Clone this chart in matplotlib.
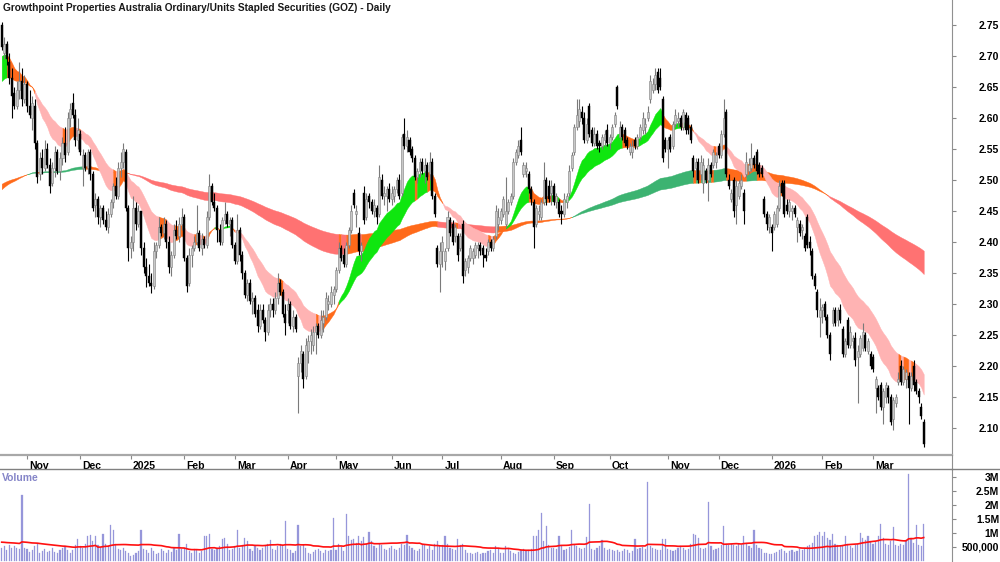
import numpy as np
import pandas as pd
import matplotlib
matplotlib.use("Agg")
import matplotlib.pyplot as plt
import matplotlib.transforms as mtrans
from matplotlib.lines import Line2D

plt.rcParams['font.family'] = ['Liberation Sans', 'DejaVu Sans']

# ---------------- data ----------------
opens = [
    2.75, 2.705, 2.72, 2.69, 2.665, 2.64, 2.62, 2.645, 2.66, 2.63,
    2.655, 2.62, 2.60, 2.62, 2.56, 2.51, 2.535, 2.52, 2.55, 2.525, 2.495, 2.52, 2.545, 2.515, 2.535, 2.56, 2.545, 2.60, 2.625, 2.605, 2.565,
    2.575, 2.52, 2.54, 2.52, 2.545, 2.51, 2.46, 2.47, 2.44, 2.455, 2.435, 2.425, 2.445, 2.465, 2.49, 2.475, 2.52, 2.53, 2.545, 2.455,
    2.39, 2.40, 2.455, 2.43, 2.45, 2.39, 2.36, 2.345, 2.335, 2.33, 2.385, 2.395, 2.425, 2.415, 2.43, 2.40, 2.36, 2.38, 2.42, 2.41, 2.43,
    2.44, 2.375, 2.335, 2.38, 2.39, 2.40, 2.415, 2.39, 2.405, 2.395, 2.44, 2.49, 2.465, 2.455, 2.42, 2.40, 2.435, 2.445, 2.43, 2.435,
    2.395, 2.37, 2.42, 2.38, 2.35, 2.315, 2.335, 2.305, 2.31, 2.29, 2.265, 2.29, 2.275, 2.255, 2.29, 2.30, 2.29, 2.31, 2.335, 2.32, 2.285,
    2.29, 2.30, 2.265, 2.28, 2.185, 2.205, 2.22, 2.185, 2.225, 2.24, 2.235, 2.255, 2.265, 2.25, 2.27, 2.28, 2.30, 2.30, 2.315,
    2.325, 2.355, 2.39, 2.38, 2.365, 2.395, 2.42, 2.48, 2.445, 2.415, 2.385, 2.48, 2.44, 2.475, 2.465, 2.45, 2.455, 2.445, 2.50, 2.475, 2.475, 2.485,
    2.47, 2.475, 2.485, 2.50, 2.48, 2.575, 2.555, 2.565, 2.55, 2.535, 2.505, 2.515, 2.53, 2.515, 2.525, 2.51, 2.53, 2.475, 2.39, 2.365,
    2.385, 2.37, 2.39, 2.435, 2.43, 2.41, 2.41, 2.39, 2.43, 2.355, 2.36, 2.375, 2.375, 2.38, 2.39, 2.395, 2.39, 2.38, 2.385, 2.40, 2.39, 2.41, 2.43,
    2.435, 2.445, 2.43, 2.45, 2.465, 2.475, 2.53, 2.54, 2.565, 2.51, 2.515, 2.51, 2.485, 2.465, 2.43, 2.445, 2.44, 2.465, 2.50, 2.49, 2.48,
    2.49, 2.465, 2.465, 2.45, 2.445, 2.465, 2.48, 2.52, 2.545, 2.585, 2.595, 2.61, 2.60, 2.565, 2.62, 2.58, 2.56, 2.575, 2.56, 2.555, 2.565, 2.58,
    2.56, 2.57, 2.59, 2.65, 2.57, 2.585, 2.58, 2.565, 2.545, 2.545, 2.565, 2.555, 2.57, 2.58, 2.585, 2.60, 2.63, 2.645, 2.655, 2.675, 2.665, 2.63, 2.565,
    2.55, 2.57, 2.555, 2.59, 2.595, 2.60, 2.585, 2.605, 2.60, 2.585, 2.535, 2.52, 2.53, 2.51, 2.495, 2.515, 2.50, 2.525, 2.525, 2.53,
    2.555, 2.54, 2.575, 2.61, 2.50, 2.47, 2.50, 2.46, 2.475, 2.49, 2.48, 2.51, 2.515, 2.52, 2.535, 2.545, 2.525, 2.52, 2.47, 2.445, 2.425,
    2.425, 2.425, 2.43, 2.455, 2.495, 2.495, 2.46, 2.45, 2.45, 2.455, 2.425, 2.43, 2.42, 2.41, 2.44, 2.40, 2.385, 2.345, 2.32, 2.28,
    2.29, 2.30, 2.28, 2.25, 2.27, 2.29, 2.275, 2.29, 2.26, 2.22, 2.275, 2.235, 2.24, 2.245, 2.215, 2.22, 2.23, 2.25, 2.225, 2.22,
    2.215, 2.165, 2.165, 2.17, 2.135, 2.15, 2.165, 2.15, 2.115, 2.14, 2.175, 2.20, 2.175, 2.18, 2.185, 2.165, 2.20, 2.175, 2.16, 2.135, 2.11,
]
highs = [
    2.755, 2.73, 2.725, 2.705, 2.68, 2.65, 2.66, 2.69, 2.68, 2.67,
    2.66, 2.645, 2.635, 2.63, 2.565, 2.545, 2.55, 2.565, 2.56, 2.535, 2.53, 2.555, 2.55, 2.545, 2.57, 2.585, 2.61, 2.625, 2.64, 2.615, 2.60,
    2.58, 2.55, 2.545, 2.55, 2.55, 2.515, 2.48, 2.475, 2.46, 2.46, 2.45, 2.455, 2.47, 2.495, 2.505, 2.53, 2.545, 2.56, 2.55, 2.46,
    2.41, 2.475, 2.465, 2.46, 2.45, 2.40, 2.375, 2.365, 2.35, 2.40, 2.40, 2.44, 2.43, 2.44, 2.435, 2.41, 2.385, 2.43, 2.435, 2.44, 2.455,
    2.445, 2.38, 2.39, 2.395, 2.41, 2.46, 2.42, 2.415, 2.41, 2.45, 2.51, 2.495, 2.48, 2.46, 2.43, 2.44, 2.465, 2.45, 2.44, 2.44,
    2.40, 2.445, 2.425, 2.385, 2.355, 2.34, 2.34, 2.32, 2.315, 2.30, 2.30, 2.30, 2.28, 2.30, 2.31, 2.31, 2.32, 2.35, 2.34, 2.325, 2.30,
    2.31, 2.305, 2.29, 2.285, 2.215, 2.235, 2.225, 2.245, 2.25, 2.26, 2.265, 2.27, 2.27, 2.29, 2.29, 2.32, 2.315, 2.33, 2.33,
    2.36, 2.40, 2.395, 2.39, 2.40, 2.425, 2.46, 2.485, 2.46, 2.425, 2.40, 2.49, 2.48, 2.48, 2.47, 2.47, 2.46, 2.525, 2.51, 2.49, 2.49, 2.495,
    2.49, 2.49, 2.505, 2.51, 2.575, 2.60, 2.58, 2.57, 2.555, 2.54, 2.52, 2.535, 2.535, 2.535, 2.53, 2.545, 2.535, 2.48, 2.395, 2.40,
    2.41, 2.39, 2.45, 2.44, 2.435, 2.43, 2.415, 2.415, 2.435, 2.375, 2.38, 2.395, 2.39, 2.40, 2.40, 2.40, 2.395, 2.39, 2.405, 2.405, 2.41, 2.46, 2.455,
    2.455, 2.475, 2.505, 2.47, 2.48, 2.535, 2.55, 2.565, 2.585, 2.53, 2.53, 2.515, 2.49, 2.47, 2.46, 2.46, 2.47, 2.53, 2.505, 2.50, 2.50,
    2.495, 2.48, 2.47, 2.46, 2.48, 2.48, 2.525, 2.545, 2.59, 2.63, 2.63, 2.62, 2.61, 2.60, 2.625, 2.585, 2.585, 2.58, 2.565, 2.575, 2.58, 2.59,
    2.575, 2.59, 2.61, 2.653, 2.595, 2.59, 2.585, 2.57, 2.56, 2.565, 2.57, 2.575, 2.59, 2.61, 2.60, 2.62, 2.67, 2.665, 2.68, 2.68, 2.68, 2.635, 2.57,
    2.57, 2.575, 2.595, 2.615, 2.61, 2.605, 2.615, 2.61, 2.605, 2.59, 2.54, 2.535, 2.535, 2.54, 2.535, 2.52, 2.535, 2.53, 2.55, 2.545,
    2.56, 2.58, 2.63, 2.615, 2.51, 2.485, 2.505, 2.50, 2.50, 2.51, 2.485, 2.545, 2.535, 2.56, 2.54, 2.55, 2.53, 2.525, 2.475, 2.45, 2.445,
    2.43, 2.45, 2.46, 2.50, 2.50, 2.50, 2.47, 2.47, 2.46, 2.46, 2.44, 2.435, 2.43, 2.415, 2.445, 2.41, 2.39, 2.35, 2.325, 2.31,
    2.30, 2.305, 2.285, 2.255, 2.295, 2.295, 2.295, 2.30, 2.265, 2.245, 2.28, 2.265, 2.25, 2.255, 2.235, 2.25, 2.27, 2.255, 2.245, 2.225,
    2.22, 2.185, 2.17, 2.175, 2.165, 2.175, 2.17, 2.155, 2.15, 2.155, 2.19, 2.21, 2.20, 2.195, 2.19, 2.19, 2.21, 2.18, 2.165, 2.14, 2.115,
]
lows = [
    2.71, 2.695, 2.685, 2.655, 2.60, 2.615, 2.615, 2.63, 2.62, 2.625,
    2.61, 2.60, 2.58, 2.55, 2.495, 2.50, 2.51, 2.515, 2.52, 2.48, 2.49, 2.505, 2.51, 2.50, 2.525, 2.53, 2.54, 2.585, 2.60, 2.555, 2.55,
    2.54, 2.49, 2.515, 2.51, 2.50, 2.45, 2.44, 2.43, 2.425, 2.43, 2.42, 2.415, 2.44, 2.455, 2.47, 2.47, 2.505, 2.52, 2.45, 2.37,
    2.375, 2.385, 2.42, 2.425, 2.38, 2.35, 2.327, 2.33, 2.318, 2.325, 2.375, 2.39, 2.41, 2.405, 2.39, 2.35, 2.345, 2.375, 2.405, 2.40, 2.42,
    2.37, 2.32, 2.33, 2.36, 2.385, 2.395, 2.385, 2.38, 2.39, 2.39, 2.435, 2.46, 2.45, 2.40, 2.395, 2.395, 2.43, 2.425, 2.41, 2.39,
    2.365, 2.365, 2.37, 2.34, 2.31, 2.305, 2.30, 2.285, 2.28, 2.255, 2.26, 2.27, 2.24, 2.25, 2.28, 2.28, 2.285, 2.30, 2.315, 2.28, 2.25,
    2.27, 2.26, 2.255, 2.255, 2.124, 2.19, 2.165, 2.18, 2.205, 2.22, 2.225, 2.22, 2.245, 2.245, 2.255, 2.275, 2.29, 2.295, 2.30,
    2.32, 2.35, 2.37, 2.36, 2.36, 2.39, 2.415, 2.455, 2.425, 2.38, 2.37, 2.43, 2.435, 2.455, 2.445, 2.44, 2.43, 2.44, 2.47, 2.46, 2.45, 2.465,
    2.46, 2.465, 2.48, 2.47, 2.475, 2.55, 2.545, 2.54, 2.53, 2.50, 2.495, 2.505, 2.51, 2.495, 2.50, 2.50, 2.47, 2.44, 2.36, 2.32,
    2.36, 2.355, 2.385, 2.41, 2.395, 2.40, 2.37, 2.385, 2.335, 2.345, 2.35, 2.37, 2.365, 2.375, 2.375, 2.38, 2.36, 2.37, 2.38, 2.385, 2.385, 2.405, 2.42,
    2.43, 2.44, 2.425, 2.445, 2.46, 2.47, 2.525, 2.535, 2.54, 2.505, 2.505, 2.48, 2.46, 2.39, 2.425, 2.435, 2.435, 2.46, 2.46, 2.465, 2.46,
    2.46, 2.455, 2.44, 2.43, 2.44, 2.455, 2.475, 2.515, 2.54, 2.58, 2.585, 2.59, 2.56, 2.56, 2.57, 2.555, 2.555, 2.55, 2.545, 2.55, 2.555, 2.555,
    2.55, 2.565, 2.585, 2.615, 2.565, 2.565, 2.555, 2.55, 2.54, 2.535, 2.55, 2.55, 2.565, 2.575, 2.575, 2.595, 2.625, 2.64, 2.645, 2.64, 2.645, 2.53, 2.545,
    2.52, 2.545, 2.55, 2.585, 2.585, 2.58, 2.58, 2.575, 2.575, 2.56, 2.505, 2.50, 2.495, 2.50, 2.48, 2.495, 2.467, 2.505, 2.52, 2.52,
    2.535, 2.535, 2.57, 2.505, 2.485, 2.465, 2.44, 2.43, 2.47, 2.485, 2.43, 2.505, 2.51, 2.515, 2.52, 2.51, 2.505, 2.505, 2.44, 2.42, 2.415,
    2.385, 2.42, 2.425, 2.45, 2.475, 2.44, 2.445, 2.44, 2.435, 2.44, 2.40, 2.41, 2.405, 2.385, 2.39, 2.38, 2.34, 2.325, 2.28, 2.247,
    2.27, 2.275, 2.245, 2.21, 2.265, 2.265, 2.265, 2.27, 2.215, 2.215, 2.23, 2.23, 2.23, 2.20, 2.14, 2.215, 2.225, 2.225, 2.22, 2.195,
    2.19, 2.125, 2.145, 2.13, 2.107, 2.14, 2.14, 2.105, 2.097, 2.135, 2.17, 2.17, 2.17, 2.165, 2.107, 2.16, 2.16, 2.155, 2.14, 2.115, 2.07,
]
closes = [
    2.715, 2.72, 2.695, 2.665, 2.635, 2.62, 2.645, 2.66, 2.63, 2.655,
    2.62, 2.605, 2.625, 2.56, 2.505, 2.535, 2.52, 2.55, 2.525, 2.49, 2.52, 2.545, 2.515, 2.535, 2.56, 2.54, 2.60, 2.615, 2.605, 2.565, 2.58,
    2.545, 2.54, 2.52, 2.545, 2.51, 2.455, 2.47, 2.44, 2.455, 2.435, 2.425, 2.445, 2.465, 2.49, 2.475, 2.52, 2.53, 2.55, 2.455, 2.39,
    2.40, 2.455, 2.43, 2.45, 2.39, 2.36, 2.345, 2.335, 2.33, 2.385, 2.395, 2.425, 2.415, 2.43, 2.40, 2.36, 2.38, 2.42, 2.41, 2.43, 2.44,
    2.375, 2.33, 2.38, 2.39, 2.40, 2.415, 2.39, 2.405, 2.395, 2.44, 2.49, 2.465, 2.455, 2.42, 2.40, 2.435, 2.445, 2.43, 2.435, 2.395,
    2.37, 2.42, 2.38, 2.35, 2.315, 2.335, 2.305, 2.31, 2.285, 2.265, 2.29, 2.275, 2.255, 2.29, 2.30, 2.29, 2.31, 2.335, 2.32, 2.285, 2.27,
    2.30, 2.265, 2.28, 2.26, 2.205, 2.225, 2.18, 2.235, 2.24, 2.25, 2.255, 2.265, 2.25, 2.275, 2.28, 2.31, 2.305, 2.32, 2.325,
    2.355, 2.39, 2.375, 2.365, 2.395, 2.42, 2.45, 2.46, 2.45, 2.385, 2.395, 2.435, 2.47, 2.465, 2.45, 2.46, 2.44, 2.505, 2.475, 2.48, 2.485, 2.47,
    2.48, 2.485, 2.50, 2.475, 2.57, 2.555, 2.57, 2.545, 2.535, 2.505, 2.515, 2.53, 2.515, 2.525, 2.505, 2.53, 2.475, 2.445, 2.365, 2.385,
    2.40, 2.385, 2.44, 2.415, 2.40, 2.425, 2.38, 2.41, 2.345, 2.37, 2.375, 2.39, 2.385, 2.395, 2.395, 2.385, 2.38, 2.375, 2.40, 2.39, 2.405, 2.45, 2.44,
    2.45, 2.47, 2.45, 2.465, 2.475, 2.53, 2.545, 2.555, 2.545, 2.525, 2.52, 2.485, 2.47, 2.425, 2.455, 2.45, 2.465, 2.50, 2.47, 2.47, 2.49,
    2.465, 2.475, 2.445, 2.445, 2.47, 2.475, 2.515, 2.54, 2.585, 2.605, 2.615, 2.60, 2.565, 2.59, 2.575, 2.56, 2.575, 2.555, 2.555, 2.57, 2.575, 2.56,
    2.57, 2.585, 2.605, 2.62, 2.585, 2.57, 2.56, 2.555, 2.555, 2.555, 2.555, 2.57, 2.585, 2.60, 2.59, 2.61, 2.66, 2.655, 2.67, 2.645, 2.65, 2.535, 2.55,
    2.565, 2.55, 2.59, 2.605, 2.60, 2.585, 2.61, 2.58, 2.58, 2.565, 2.515, 2.53, 2.50, 2.53, 2.525, 2.50, 2.525, 2.51, 2.545, 2.54,
    2.54, 2.575, 2.60, 2.51, 2.49, 2.48, 2.45, 2.49, 2.495, 2.50, 2.45, 2.53, 2.525, 2.535, 2.525, 2.515, 2.51, 2.51, 2.445, 2.43, 2.44,
    2.415, 2.445, 2.455, 2.49, 2.48, 2.445, 2.45, 2.465, 2.455, 2.445, 2.435, 2.415, 2.425, 2.39, 2.395, 2.39, 2.345, 2.33, 2.29, 2.29,
    2.295, 2.28, 2.25, 2.22, 2.29, 2.27, 2.29, 2.275, 2.22, 2.24, 2.235, 2.255, 2.245, 2.21, 2.225, 2.245, 2.255, 2.23, 2.24, 2.20,
    2.195, 2.18, 2.15, 2.135, 2.16, 2.17, 2.15, 2.11, 2.145, 2.15, 2.18, 2.175, 2.195, 2.19, 2.165, 2.185, 2.17, 2.16, 2.15, 2.12, 2.075,
]
volume_k = [
    450, 520, 400, 560, 480, 530, 470, 420, 2350, 480,
    440, 330, 380, 520, 600, 280, 350, 420, 310, 370, 450, 330, 290, 390, 460, 520, 380, 300, 410, 560, 800,
    520, 450, 600, 880, 920, 700, 900, 560, 480, 950, 620, 540, 1280, 1100, 600, 420, 380, 460, 350, 280,
    180, 220, 300, 350, 1100, 420, 380, 300, 450, 360, 260, 300, 420, 340, 280, 390, 310, 450, 380, 950, 420,
    480, 620, 350, 300, 420, 380, 290, 340, 880, 900, 950, 420, 380, 460, 520, 780, 820, 600, 380, 440,
    520, 1100, 480, 560, 820, 700, 430, 350, 560, 480, 380, 460, 520, 600, 760, 420, 380, 520, 600, 580, 1430,
    420, 380, 300, 350, 1300, 520, 560, 480, 300, 250, 320, 380, 420, 360, 300, 400, 350, 380, 1540,
    380, 620, 500, 350, 1690, 880, 760, 800, 650, 900, 700, 860, 620, 1050, 700, 520, 480, 600, 560, 420, 380, 460,
    520, 420, 380, 480, 600, 560, 930, 520, 480, 400, 350, 420, 620, 580, 440, 520, 380, 620, 700, 520,
    560, 880, 600, 480, 420, 380, 800, 560, 620, 400, 300, 280, 250, 300, 320, 260, 280, 300, 350, 380, 300, 520, 460,
    300, 280, 550, 480, 350, 300, 260, 320, 400, 420, 360, 380, 420, 900, 880, 1100, 1720, 700, 1250, 560, 480,
    460, 420, 900, 520, 380, 420, 500, 1100, 580, 520, 480, 420, 460, 850, 2020, 420, 380, 450, 520, 750, 480, 400,
    420, 380, 360, 400, 320, 360, 420, 380, 300, 340, 780, 420, 460, 500, 440, 2830, 520, 460, 420, 380, 400, 800, 780,
    420, 380, 350, 400, 460, 520, 480, 380, 420, 600, 950, 920, 820, 480, 420, 460, 2090, 520, 380, 420,
    480, 560, 1250, 620, 560, 600, 580, 520, 600, 560, 900, 640, 520, 480, 1100, 560, 480, 420, 300, 280, 250,
    240, 280, 320, 380, 420, 360, 300, 340, 380, 320, 360, 420, 380, 460, 520, 560, 640, 880, 920, 1020,
    880, 1050, 820, 760, 950, 620, 580, 520, 560, 900, 620, 520, 480, 560, 620, 1000, 820, 760, 880, 720,
    620, 680, 900, 1320, 820, 620, 580, 700, 1200, 560, 520, 620, 580, 760, 3090, 820, 640, 1300, 580, 520, 1320,
]

start_date = "2024-10-18"
asx_holidays = ["2024-12-25", "2024-12-26", "2025-01-01", "2025-01-27", "2025-04-18",
                "2025-04-21", "2025-04-25", "2025-06-09", "2025-12-25", "2025-12-26",
                "2026-01-01", "2026-01-26"]

# indicator settings (ribbon EMA periods, start levels read at the left edge)
short_periods = (15, 30)
short_start = (2.698, 2.656)
long_periods = (130, 200)
long_start = (2.482, 2.492)
vol_ma_period = 30
vol_ma_start_k = 680

price_ticks = [2.10, 2.15, 2.20, 2.25, 2.30, 2.35, 2.40, 2.45, 2.50, 2.55, 2.60, 2.65, 2.70, 2.75]
vol_ticks_m = [0.5, 1.0, 1.5, 2.0, 2.5, 3.0]
vol_tick_labels = ["500,000", "1M", "1.5M", "2M", "2.5M", "3M"]
title = "Growthpoint Properties Australia Ordinary/Units Stapled Securities (GOZ) - Daily"

# ---------------- prep ----------------
n = min(len(opens), len(highs), len(lows), len(closes), len(volume_k))
o = np.array(opens[:n]); h = np.array(highs[:n]); l = np.array(lows[:n]); c = np.array(closes[:n])
vol = np.array(volume_k[:n]) / 1000.0
x = np.arange(n)

dates = pd.bdate_range(start_date, periods=n, freq="C", holidays=asx_holidays)


def ema(values, period, start):
    a = 2.0 / (period + 1)
    out = np.empty(len(values))
    prev = start
    for i, v in enumerate(values):
        prev = prev + a * (v - prev)
        out[i] = prev
    return out


sf = ema(c, short_periods[0], short_start[0]); ss = ema(c, short_periods[1], short_start[1])
lf = ema(c, long_periods[0], long_start[0]); ls = ema(c, long_periods[1], long_start[1])

vol_pad = np.concatenate([np.full(vol_ma_period - 1, vol_ma_start_k / 1000.0), vol])
vol_ma = pd.Series(vol_pad).rolling(vol_ma_period).mean().to_numpy()[vol_ma_period - 1:]

# ---------------- figure ----------------
W, H = 1000, 562
fig = plt.figure(figsize=(W / 100, H / 100), dpi=100)
fig.patch.set_facecolor("white")

px_per_bar = 2.533
x0_px = 1.7
ax_right_px = 952
xlim = (-x0_px / px_per_bar, (ax_right_px - x0_px) / px_per_bar)

ax = fig.add_axes([0, (H - 455) / H, ax_right_px / W, 455 / H])
axv = fig.add_axes([0, 0, ax_right_px / W, (H - 469) / H])

GREEN_S, PINK_S = "#0fe60f", "#ffb3b3"
GREEN_L, RED_L = "#3cb371", "#ff7272"
ORANGE = "#ff6a1a"


def ribbon(axis, fast, slow, cg, cr, co):
    slope = np.diff(fast, prepend=fast[0])
    state = np.where((fast >= slow) & (slope >= 0), 0,
                     np.where((fast < slow) & (slope < 0), 1, 2))
    cols = [cg, cr, co]
    lo = np.minimum(fast, slow); hi = np.maximum(fast, slow)
    i = 0
    while i < n:
        j = i
        while j + 1 < n and state[j + 1] == state[i]:
            j += 1
        sl = slice(i, min(j + 2, n))
        axis.fill_between(x[sl], lo[sl], hi[sl], facecolor=cols[state[i]],
                          edgecolor=cols[state[i]], lw=0.3, zorder=1)
        i = j + 1


ribbon(ax, lf, ls, GREEN_L, RED_L, ORANGE)
ribbon(ax, sf, ss, GREEN_S, PINK_S, ORANGE)

up = c >= o
wick_col = np.where(up, "#7a7a7a", "#000000")
ax.vlines(x, np.minimum(l, np.minimum(o, c)), np.maximum(h, np.maximum(o, c)),
          colors=wick_col, lw=0.8, zorder=2)
body_lo = np.minimum(o, c)
body_h = np.maximum(np.abs(c - o), 0.002)
ax.bar(x[up], body_h[up], bottom=body_lo[up], width=0.8, color="#c8c8c8",
       edgecolor="#808080", lw=0.4, zorder=3)
ax.bar(x[~up], body_h[~up], bottom=body_lo[~up], width=0.8, color="#000000",
       edgecolor="#000000", lw=0.3, zorder=3)

ax.set_xlim(*xlim)
ax.set_ylim(2.057, 2.7903)

# month ticks
month_idx = [i for i in range(1, n) if dates[i].month != dates[i - 1].month]
month_lab = [str(dates[i].year) if dates[i].month == 1 else dates[i].strftime("%b") for i in month_idx]
ax.set_xticks(month_idx)
ax.set_xticklabels(month_lab, fontsize=7.5, fontweight="bold")
ax.tick_params(axis="x", direction="out", length=3, pad=1, color="#888888", width=0.8)
off = mtrans.ScaledTranslation(1.5 / 72, 0, fig.dpi_scale_trans)
for t in ax.get_xticklabels():
    t.set_ha("left")
    t.set_transform(t.get_transform() + off)

ax.yaxis.tick_right()
ax.set_yticks(price_ticks)
ax.set_yticklabels([f"{v:.2f}" for v in price_ticks], fontsize=7.5, fontweight="bold")
pad_pt = (998 - ax_right_px - 3) * 0.72
ax.tick_params(axis="y", direction="out", length=3, pad=pad_pt, color="#888888", width=0.8)
for t in ax.get_yticklabels():
    t.set_ha("right")

for s in ["top", "left"]:
    ax.spines[s].set_visible(False)
ax.spines["right"].set_color("#909090")
ax.spines["bottom"].set_color("#a8a8a8")
ax.spines["bottom"].set_linewidth(1.6)

# volume panel
axv.bar(x, vol, width=0.45, color="#9696da", edgecolor="#9696da", lw=0.2, zorder=1)
axv.plot(x, vol_ma, color="#ff1010", lw=1.2, zorder=2)
axv.set_xlim(*xlim)
axv.set_ylim(-1 / 28, 92 / 28)
axv.set_xticks([])
axv.yaxis.tick_right()
axv.set_yticks(vol_ticks_m)
axv.set_yticklabels(vol_tick_labels, fontsize=7.5, fontweight="bold")
axv.tick_params(axis="y", direction="out", length=3, pad=pad_pt, color="#888888", width=0.8)
for t in axv.get_yticklabels():
    t.set_ha("right")
for s in ["bottom", "left"]:
    axv.spines[s].set_visible(False)
axv.spines["right"].set_color("#909090")
axv.spines["top"].set_color("#808080")
axv.spines["top"].set_linewidth(1.0)
axv.text(0.002, 1 - 9 / 93, "Volume", transform=axv.transAxes, fontsize=7.5,
         fontweight="bold", color="#8585c8", va="center", ha="left")

# frame pieces in the date strip
fig.add_artist(Line2D([ax_right_px / W, ax_right_px / W], [(H - 469) / H, (H - 455) / H],
                      color="#909090", lw=0.8))
fig.add_artist(Line2D([ax_right_px / W, 1], [(H - 469) / H, (H - 469) / H],
                      color="#808080", lw=1.0))

fig.text(3 / W, 1 - 8 / H, title, fontsize=7.3, fontweight="bold", color="#1a1a1a",
         va="center", ha="left")

fig.savefig("out.png", dpi=100, facecolor="white")
